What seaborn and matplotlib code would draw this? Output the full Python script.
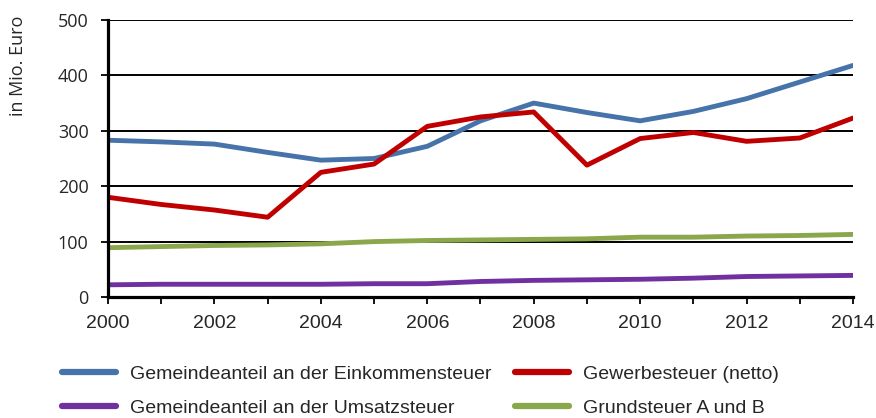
import numpy as np
import pandas as pd
import matplotlib
matplotlib.use("Agg")
import matplotlib.pyplot as plt
from matplotlib.ticker import MultipleLocator
import seaborn as sns

jahre = list(range(2000, 2015))
einkommensteuer = [283, 280, 276, 261, 247, 250, 272, 318, 350, 333, 318, 335, 358, 388, 418]
gewerbesteuer = [180, 167, 157, 144, 225, 240, 308, 325, 334, 238, 286, 297, 281, 287, 323]
umsatzsteuer = [22, 23, 23, 23, 23, 24, 24, 28, 30, 31, 32, 34, 37, 38, 39]
grundsteuer = [89, 91, 93, 94, 96, 100, 102, 103, 104, 105, 108, 108, 110, 111, 113]

namen = ["Gemeindeanteil an der Einkommensteuer", "Gewerbesteuer (netto)",
         "Gemeindeanteil an der Umsatzsteuer", "Grundsteuer A und B"]
farben = ["#4673A9", "#C00000", "#7030A0", "#8AA84B"]

df = pd.DataFrame({"Jahr": jahre * 4,
                   "Wert": einkommensteuer + gewerbesteuer + umsatzsteuer + grundsteuer,
                   "Serie": sum([[n] * len(jahre) for n in namen], [])})

sns.set_style("white")
schmal = ["Liberation Sans", "DejaVu Sans"]
normal = ["Open Sans", "DejaVu Sans"]

fig = plt.figure(figsize=(8.76, 4.18), dpi=100)
ax = fig.add_axes([108 / 876, 1 - 297 / 418, (853 - 108) / 876, (297 - 20) / 418])

ax.set_ylim(0, 500)
ax.set_xlim(2000, 2014)
ax.yaxis.set_major_locator(MultipleLocator(100))
ax.grid(axis="y", color="black", linewidth=1.4, zorder=0)
ax.set_axisbelow(True)

sns.lineplot(data=df, x="Jahr", y="Wert", hue="Serie", hue_order=namen,
             palette=farben, linewidth=3.5, ax=ax, legend=False, zorder=3)

for s in ["top", "right"]:
    ax.spines[s].set_visible(False)
for s in ["left", "bottom"]:
    ax.spines[s].set_color("black")
    ax.spines[s].set_linewidth(2.3)
    ax.spines[s].set_zorder(4)

ax.set_xticks(range(2000, 2015, 2))
ax.set_xticks(range(2000, 2015), minor=True)
ax.tick_params(axis="x", which="both", direction="out", length=5, width=1.3,
               color="black", bottom=True, pad=8)
ax.tick_params(axis="y", which="both", direction="out", length=5, width=1.3,
               color="black", left=True, pad=9)
for lab in ax.get_xticklabels():
    lab.set_family(schmal)
    lab.set_fontsize(14)
for lab in ax.get_yticklabels():
    lab.set_family(normal)
    lab.set_fontsize(13)

ax.set_xlabel("")
ax.set_ylabel("")
fig.text(18 / 876, 1 - 66 / 418, "in Mio. Euro", rotation=90, ha="center", va="center",
         family=normal, fontsize=13)

# Reihenfolge spaltenweise, damit die Zeilen wie im Original stehen
reihe = [0, 2, 1, 3]
handles = [plt.Line2D([], [], color=farben[i], linewidth=4.5, solid_capstyle="round") for i in reihe]
labels = [namen[i] for i in reihe]
leg = fig.legend(handles, labels, loc="upper left", bbox_to_anchor=(62 / 876, 1 - 365 / 418),
                 ncol=2, frameon=False, handlelength=2.8, handletextpad=0.7,
                 columnspacing=1.2, labelspacing=0.85, borderpad=0, borderaxespad=0,
                 prop={"family": schmal, "size": 14})

fig.savefig("out.png", dpi=100)
